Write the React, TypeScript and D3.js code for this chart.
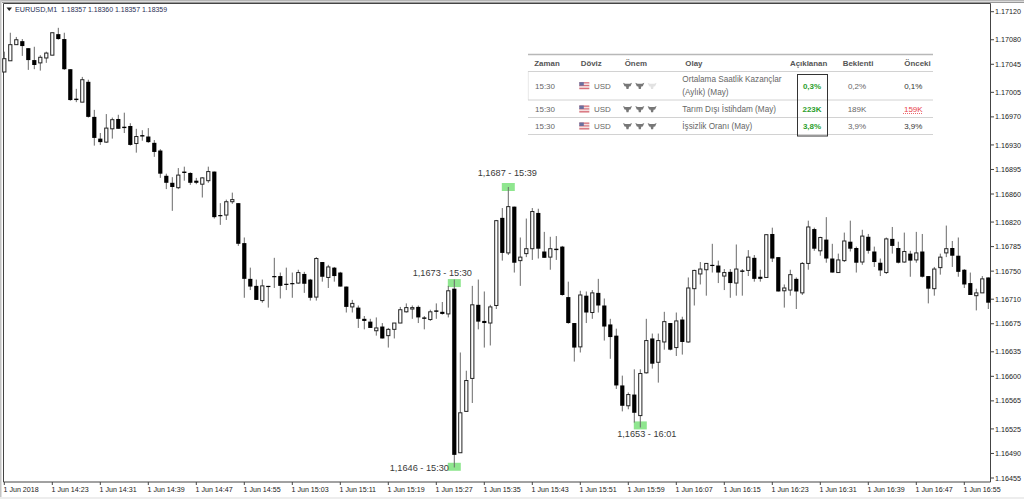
import React from "react";
import * as d3 from "d3";

// Prices in 1e-5 units (117063 = 1.17063)
const highs = [117063,117090,117084,117081,117068,117070,117058,117063,117090,117097,117090,117038,117010,117027,117023,116980,116947,116974,116969,116973,116976,116961,116953,116951,116954,116937,116924,116889,116884,116897,116899,116891,116883,116884,116899,116892,116847,116852,116862,116847,116798,116755,116738,116738,116729,116769,116748,116755,116748,116752,116749,116739,116770,116763,116759,116756,116749,116728,116709,116701,116686,116682,116684,116676,116669,116676,116699,116704,116701,116701,116686,116695,116704,116706,116729,116738,116634,116608,116729,116738,116721,116702,116823,116840,116870,116842,116798,116825,116840,116839,116806,116799,116800,116786,116735,116676,116722,116721,116723,116739,116711,116682,116668,116601,116577,116610,116610,116682,116661,116661,116692,116676,116691,116685,116741,116752,116763,116761,116789,116765,116753,116753,116788,116753,116780,116773,116752,116802,116812,116770,116731,116752,116741,116763,116822,116812,116799,116827,116789,116775,116805,116822,116785,116809,116803,116785,116768,116798,116813,116792,116805,116779,116806,116803,116743,116756,116775,116815,116793,116798,116753,116748,116725,116743,116741];
const lows = [117034,117050,117073,117057,117037,117038,117036,117047,117058,117080,117037,116993,116991,116991,116969,116929,116930,116933,116939,116953,116947,116929,116919,116936,116933,116913,116883,116867,116836,116867,116879,116873,116874,116855,116876,116825,116816,116823,116846,116786,116712,116723,116709,116705,116698,116726,116711,116723,116712,116732,116719,116708,116708,116735,116726,116735,116728,116691,116691,116669,116667,116669,116658,116654,116641,116654,116676,116691,116682,116676,116667,116679,116682,116688,116684,116470,116491,116550,116562,116667,116641,116644,116696,116765,116773,116748,116729,116770,116766,116768,116769,116752,116766,116715,116675,116621,116634,116676,116682,116691,116651,116625,116582,116550,116553,116534,116527,116604,116611,116591,116638,116637,116629,116631,116648,116701,116731,116715,116748,116733,116723,116712,116715,116715,116743,116735,116735,116741,116763,116721,116698,116715,116696,116716,116752,116779,116772,116762,116748,116748,116763,116778,116748,116759,116775,116756,116743,116746,116775,116761,116762,116742,116762,116741,116704,116715,116745,116770,116756,116742,116726,116716,116694,116719,116696];
const opens = [117034,117050,117073,117078,117068,117051,117047,117054,117058,117088,117081,117038,116996,116991,117020,116970,116939,116934,116953,116967,116956,116957,116932,116944,116942,116933,116922,116886,116876,116869,116892,116890,116879,116874,116879,116892,116830,116830,116849,116847,116790,116739,116729,116708,116729,116743,116743,116732,116733,116733,116746,116738,116713,116763,116741,116755,116748,116728,116699,116698,116682,116678,116665,116671,116658,116667,116676,116692,116696,116699,116684,116681,116694,116692,116689,116725,116491,116550,116597,116702,116679,116676,116701,116826,116776,116842,116765,116775,116782,116833,116778,116770,116782,116785,116713,116676,116642,116715,116691,116719,116701,116674,116658,116587,116558,116574,116544,116605,116654,116620,116649,116676,116641,116681,116649,116725,116746,116752,116759,116758,116743,116749,116733,116751,116751,116769,116742,116741,116803,116770,116722,116723,116739,116719,116761,116810,116779,116795,116768,116748,116765,116792,116783,116763,116799,116778,116762,116748,116796,116783,116763,116775,116766,116778,116743,116725,116755,116776,116783,116772,116752,116733,116715,116719,116741];
const closes = [117053,117073,117080,117071,117051,117044,117055,117061,117090,117081,117038,116994,116994,117023,116970,116940,116934,116954,116966,116953,116954,116930,116942,116942,116934,116920,116889,116876,116870,116887,116890,116876,116876,116883,116892,116827,116829,116849,116852,116789,116739,116728,116709,116729,116728,116742,116729,116731,116732,116748,116732,116712,116768,116742,116756,116743,116728,116699,116704,116682,116679,116669,116669,116654,116667,116676,116695,116698,116698,116684,116682,116692,116692,116689,116722,116488,116548,116594,116702,116678,116676,116699,116822,116776,116842,116762,116770,116782,116835,116782,116769,116782,116780,116716,116676,116641,116716,116691,116719,116701,116671,116656,116587,116558,116574,116548,116604,116651,116618,116651,116678,116638,116679,116649,116726,116751,116753,116761,116758,116748,116748,116733,116753,116749,116770,116739,116739,116802,116768,116721,116726,116745,116721,116761,116813,116782,116798,116768,116748,116766,116793,116782,116762,116800,116779,116763,116751,116796,116786,116762,116778,116765,116776,116742,116725,116753,116770,116782,116772,116749,116731,116716,116719,116739,116705];

const priceTicks = ["1.17120","1.17080","1.17045","1.17005","1.16970","1.16930","1.16895","1.16860","1.16820","1.16785","1.16750","1.16710","1.16675","1.16635","1.16600","1.16565","1.16525","1.16490","1.16455"];
const timeTicks = ["1 Jun 2018","1 Jun 14:23","1 Jun 14:31","1 Jun 14:39","1 Jun 14:47","1 Jun 14:55","1 Jun 15:03","1 Jun 15:11","1 Jun 15:19","1 Jun 15:27","1 Jun 15:35","1 Jun 15:43","1 Jun 15:51","1 Jun 15:59","1 Jun 16:07","1 Jun 16:15","1 Jun 16:23","1 Jun 16:31","1 Jun 16:39","1 Jun 16:47","1 Jun 16:55"];

const markerIndex = [75, 84, 106, 75];
const markerPrice = [1.16733, 1.1687, 1.1653, 1.16471];
const markerText = ["1,1673 - 15:30", "1,1687 - 15:39", "1,1653 - 16:01", "1,1646 - 15:30"];
const markerTextDx = [-12, -1, 6.5, -35];
const markerTextDy = [-7, -11, 11.5, 4];

const headers = ["Zaman", "Döviz", "Önem", "Olay", "Açıklanan", "Beklenti", "Önceki"];
const headerX = [534.3, 580.7, 624.7, 685.3, 790, 842.7, 904.3];
const rowTimes = ["15:30", "15:30", "15:30"];
const rowEvents = [["Ortalama Saatlik Kazançlar", "(Aylık) (May)"], ["Tarım Dışı İstihdam (May)"], ["İşsizlik Oranı (May)"]];
const rowActual = ["0,3%", "223K", "3,8%"];
const rowForecast = ["0,2%", "189K", "3,9%"];
const rowPrevious = ["0,1%", "159K", "3,9%"];
const rowImportance = [2, 3, 3];
const rowY = [85.7, 109, 126];
const eventY = [[79, 92], [109], [126]];
const rowLines = [71.5, 100, 117.5, 134.5];

const FONT = "'Liberation Sans', Arial, sans-serif";
const W = 1024;
const H = 499;

const x = d3.scaleLinear().domain([0, 164]).range([4.3, 988.3]);
const y = d3.scaleLinear().domain([1.1712, 1.16455]).range([11.7, 478]);
const p = (v: number) => v / 1e5;

function Flag({ px, py }: { px: number; py: number }) {
  const stripes = ["#d9707a", "#f4dfe0", "#d9707a", "#f4dfe0", "#d9707a"];
  return (
    <g>
      <rect x={px} y={py - 3.5} width={10} height={7} fill="#eee" />
      {stripes.map((c, i) => (
        <rect key={i} x={px} y={py - 3.5 + i * 1.4} width={10} height={1.4} fill={c} />
      ))}
      <rect x={px} y={py - 3.5} width={4.5} height={3.5} fill="#6a6f9e" />
    </g>
  );
}

function Bull({ cx, cy, color }: { cx: number; cy: number; color: string }) {
  const d = d3.path();
  d.moveTo(cx - 4.5, cy - 3);
  d.lineTo(cx - 2.2, cy - 2);
  d.lineTo(cx + 2.2, cy - 2);
  d.lineTo(cx + 4.5, cy - 3);
  d.lineTo(cx + 3, cy + 0.5);
  d.lineTo(cx + 1.5, cy + 0.8);
  d.lineTo(cx + 1, cy + 3.2);
  d.lineTo(cx - 1, cy + 3.2);
  d.lineTo(cx - 1.5, cy + 0.8);
  d.lineTo(cx - 3, cy + 0.5);
  d.closePath();
  return <path d={d.toString()} fill={color} />;
}

export default function App() {
  return (
    <svg
      width={W}
      height={H}
      viewBox={`0 0 ${W} ${H}`}
      style={{ position: "absolute", left: 0, top: 0, background: "#fff", display: "block" }}
      fontFamily={FONT}
    >
      {/* window chrome */}
      <rect x={0} y={0} width={W} height={1.5} fill="#b5b5b5" />
      <rect x={0} y={0} width={1.5} height={H} fill="#c4c4c4" />
      <rect x={0} y={497} width={W} height={2} fill="#ededed" />
      <path d="M3.5 482V3.5H990.5V482H3.5" fill="#fff" stroke="#444" strokeWidth={1} />
      <path d="M2 2.5H1024" stroke="#999" strokeWidth={1} />

      {/* y axis */}
      {priceTicks.map((t) => (
        <g key={t} transform={`translate(0,${y(+t)})`}>
          <line x1={991} x2={994} stroke="#444" />
          <text x={995} y={2.6} fontSize={7.2} fill="#222">{t}</text>
        </g>
      ))}
      {/* x axis */}
      {timeTicks.map((t, i) => (
        <g key={t} transform={`translate(${x(i * 8)},0)`}>
          <line y1={482} y2={485} stroke="#444" />
          <text x={-0.8} y={492} fontSize={7.1} fill="#222">{t}</text>
        </g>
      ))}

      {/* header */}
      <path d="M6.5 7.5h5.5l-2.75 3.6z" fill="#222" />
      <text x={15} y={12} fontSize={7.2} fill="#1f2f55">EURUSD,M1</text>
      <text x={61} y={12} fontSize={6.95} fill="#1f2f55">1.18357 1.18360 1.18357 1.18359</text>

      {/* markers */}
      {markerIndex.map((m, i) => (
        <rect key={i} x={x(m) - 6.5} y={y(markerPrice[i]) - 4} width={13} height={8} fill="#8fe68f" />
      ))}

      {/* candles */}
      {opens.map((o, i) => {
        const c = closes[i];
        const up = c > o;
        const top = y(p(Math.max(o, c)));
        const bot = y(p(Math.min(o, c)));
        const cx = x(i);
        return (
          <g key={i}>
            <line x1={cx} x2={cx} y1={y(p(highs[i]))} y2={y(p(lows[i]))} stroke="#6a6a6a" strokeWidth={1} />
            {up ? (
              <rect x={cx - 1.6} y={top} width={3.2} height={Math.max(bot - top, 1)} fill="#fff" stroke="#222" strokeWidth={1} />
            ) : (
              <rect x={cx - 2.1} y={top} width={4.2} height={Math.max(bot - top, 1.2)} fill="#000" />
            )}
          </g>
        );
      })}

      {/* marker labels */}
      {markerIndex.map((m, i) => (
        <text
          key={i}
          x={x(m) + markerTextDx[i]}
          y={y(markerPrice[i]) + markerTextDy[i]}
          fontSize={9.2}
          fill="#3a3a3a"
          textAnchor="middle"
        >
          {markerText[i]}
        </text>
      ))}

      {/* news table */}
      <rect x={528} y={54} width={405} height={81} fill="#fff" />
      <line x1={528} x2={933} y1={54.5} y2={54.5} stroke="#b8b8b8" strokeWidth={1.4} />
      <line x1={528.3} x2={528.3} y1={71} y2={100} stroke="#e8e8e8" />
      {rowLines.map((ly) => (
        <line key={ly} x1={528} x2={933} y1={ly} y2={ly} stroke="#d2d2d2" />
      ))}
      {headers.map((h, i) => (
        <text key={h} x={headerX[i]} y={65.8} fontSize={7.9} fontWeight="bold" fill="#555">{h}</text>
      ))}
      {rowTimes.map((t, r) => (
        <g key={r}>
          <text x={535} y={rowY[r] + 2.8} fontSize={8} fill="#666">{t}</text>
          <Flag px={579.3} py={rowY[r]} />
          <text x={594} y={rowY[r] + 2.8} fontSize={8} fill="#666">USD</text>
          {[0, 1, 2].map((k) => (
            <Bull key={k} cx={627.5 + k * 12.3} cy={rowY[r]} color={k < rowImportance[r] ? "#777" : "#e2e2e2"} />
          ))}
          {rowEvents[r].map((line, l) => (
            <text key={l} x={682.3} y={eventY[r][l] + 2.8} fontSize={8.2} fill="#666">{line}</text>
          ))}
          <text x={812} y={rowY[r] + 2.8} fontSize={8} fontWeight="bold" fill="#2ca02c" textAnchor="middle">{rowActual[r]}</text>
          <text x={857} y={rowY[r] + 2.8} fontSize={8} fill="#666" textAnchor="middle">{rowForecast[r]}</text>
          <text x={913.3} y={rowY[r] + 2.8} fontSize={8} fill={r === 1 ? "#e8434a" : "#333"} textAnchor="middle">{rowPrevious[r]}</text>
        </g>
      ))}
      <line x1={903} x2={923} y1={113.5} y2={113.5} stroke="#e8434a" strokeWidth={0.8} strokeDasharray="1 1" />
      <rect x={797.5} y={74.5} width={30} height={61.5} fill="none" stroke="#333" strokeWidth={1} />
    </svg>
  );
}
